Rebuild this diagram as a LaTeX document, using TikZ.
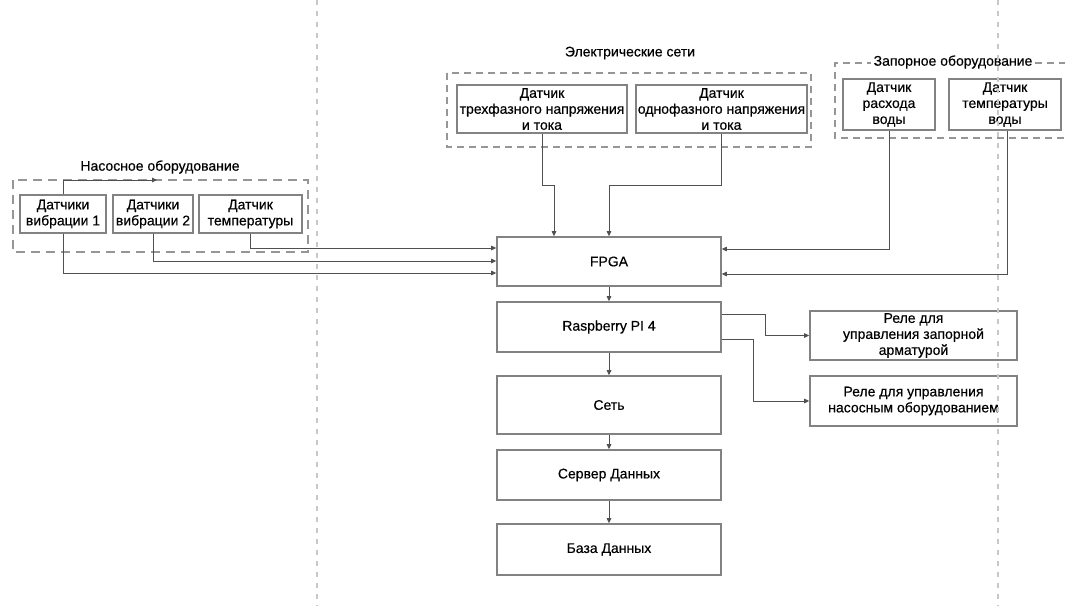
\documentclass[tikz,border=0pt]{standalone}
\usepackage{fontspec}
\setmainfont{Liberation Sans}
\usetikzlibrary{arrows.meta}
\definecolor{boxc}{RGB}{130,130,130}
\definecolor{linec}{RGB}{80,80,80}
\definecolor{grpc}{RGB}{150,150,150}
\definecolor{sepc}{RGB}{200,200,200}
\newcommand{\diagfont}{\fontsize{14}{16}\selectfont\addfontfeature{FakeBold=0.4}}
\tikzset{
  box/.style={draw=boxc, line width=1.6pt, fill=white, align=center, inner sep=0pt,
    font=\diagfont, text=black},
  conn/.style={draw=linec, line width=0.9pt, -{Triangle[length=5pt,width=4.5pt]}},
  grp/.style={draw=grpc, line width=1.6pt, dash pattern=on 7pt off 5pt},
  sepline/.style={draw=sepc, line width=1.2pt, dash pattern=on 4.5pt off 6.5pt},
  lbl/.style={font=\diagfont, inner sep=1pt, text=black}
}
\begin{document}
\begin{tikzpicture}[x=1pt,y=-1pt]
\useasboundingbox (0,0) rectangle (1065,606);
\fill[white] (0,0) rectangle (1065,606);

% groups
\draw[grp, dash pattern=on 9pt off 6pt] (13,180) rectangle (308,252);
\draw[grp] (447,73) rectangle (811,147);
\draw[grp] (1066,63) -- (835,63) -- (835,138) -- (1066,138);
\node[lbl] (tpump) at (160,167) {Насосное оборудование};
\node[lbl] (tel) at (630,53) {Электрические сети};
\node[lbl, fill=white, inner xsep=3pt] (tshut) at (953,62) {Запорное оборудование};

% sensors
\node[box, minimum width=86pt, minimum height=38pt] (vib1) at (63,214) {Датчики\\вибрации 1};
\node[box, minimum width=80pt, minimum height=38pt] (vib2) at (153,214) {Датчики\\вибрации 2};
\node[box, minimum width=103pt, minimum height=38pt] (tmp) at (250.5,214) {Датчик\\температуры};
\node[box, minimum width=170pt, minimum height=48pt] (el1) at (542,109) {Датчик\\трехфазного напряжения\\и тока};
\node[box, minimum width=171pt, minimum height=48pt] (el2) at (721.5,109) {Датчик\\однофазного напряжения\\и тока};
\node[box, minimum width=92pt, minimum height=51pt] (flow) at (889,104.5) {Датчик\\расхода\\воды};
\node[box, minimum width=112pt, minimum height=51pt] (wtemp) at (1005,104.5) {Датчик\\температуры\\воды};

% main stack
\node[box, minimum width=224pt, minimum height=49pt] (fpga) at (609,261.5) {FPGA};
\node[box, minimum width=224pt, minimum height=50pt] (rpi) at (609,327) {Raspberry PI 4};
\node[box, minimum width=224pt, minimum height=58pt] (net) at (609,405) {Сеть};
\node[box, minimum width=224pt, minimum height=50pt] (srv) at (609,475) {Сервер Данных};
\node[box, minimum width=224pt, minimum height=51pt] (db) at (609,549.5) {База Данных};

% relays
\node[box, minimum width=207pt, minimum height=49pt] (rel1) at (913.5,335.5) {Реле для\\управления запорной\\арматурой};
\node[box, minimum width=207pt, minimum height=50pt] (rel2) at (913.5,401) {Реле для управления\\насосным оборудованием};

% connectors
\coordinate (pumparrow) at (157,180);
\draw[conn] (vib1.north) |- (pumparrow);
\draw[conn] (vib1.south) |- (fpga.west |- 0,273);
\draw[conn] (vib2.south) |- (fpga.west |- 0,261);
\draw[conn] (tmp.south) |- (fpga.west |- 0,248);
\draw[conn] (el1.south) -- ++(0,52) -| ([xshift=-55pt]fpga.north);
\draw[conn] (el2.south) -- ++(0,52) -| (fpga.north);
\draw[conn] (flow.south) |- (fpga.east |- 0,249);
\draw[conn] ([xshift=2pt]wtemp.south) |- (fpga.east |- 0,274);
\draw[conn] (fpga.south) -- (rpi.north);
\draw[conn] (rpi.east |- 0,314) -| (765,335.5) -- (rel1.west);
\draw[conn] (rpi.east |- 0,339) -| (753,401) -- (rel2.west);
\draw[conn] (rpi.south) -- (net.north);
\draw[conn] (net.south) -- (srv.north);
\draw[conn] (srv.south) -- (db.north);

% separators
\draw[sepline] (317,0) -- (317,606);
\draw[sepline] (998,0) -- (998,606);
\end{tikzpicture}
\end{document}
